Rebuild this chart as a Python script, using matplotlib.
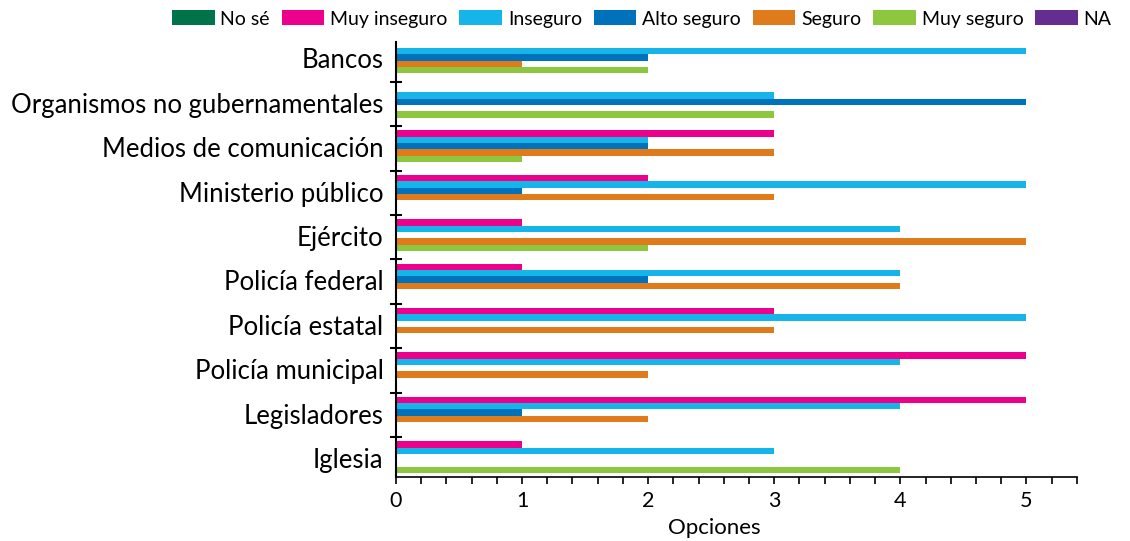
import numpy as np
import matplotlib
matplotlib.use("Agg")
import matplotlib.pyplot as plt

# Categories, top to bottom
categories = ["Bancos", "Organismos no gubernamentales", "Medios de comunicación",
              "Ministerio público", "Ejército", "Policía federal", "Policía estatal",
              "Policía municipal", "Legisladores", "Iglesia"]

series_names = ["No sé", "Muy inseguro", "Inseguro", "Alto seguro", "Seguro", "Muy seguro", "NA"]
series_colors = ["#00734a", "#ec008c", "#15b5e9", "#0072bc", "#e07b1c", "#8dc63f", "#662d91"]

no_se        = [0, 0, 0, 0, 0, 0, 0, 0, 0, 0]
muy_inseguro = [0, 0, 3, 2, 1, 1, 3, 5, 5, 1]
inseguro     = [5, 3, 2, 5, 4, 4, 5, 4, 4, 3]
alto_seguro  = [2, 5, 2, 1, 0, 2, 0, 0, 1, 0]
seguro       = [1, 0, 3, 3, 5, 4, 3, 2, 2, 0]
muy_seguro   = [2, 3, 1, 0, 2, 0, 0, 0, 0, 4]
na           = [0, 0, 0, 0, 0, 0, 0, 0, 0, 0]

series_values = [no_se, muy_inseguro, inseguro, alto_seguro, seguro, muy_seguro, na]

plt.rcParams['font.family'] = ['Lato', 'DejaVu Sans']

fig = plt.figure(figsize=(11.3, 5.41), dpi=100)
ax = fig.add_axes([0.3504, 0.1183, 0.6026, 0.8041])

y = np.arange(len(categories))
h = 1 / 7
for i, (name, vals, col) in enumerate(zip(series_names, series_values, series_colors)):
    ax.barh(y + (i - 3) * h - 0.05, vals, height=h, color=col, label=name, linewidth=0)

ax.set_ylim(9.4, -0.4)
ax.set_xlim(0, 5.4)

ax.set_yticks(y - 0.03)
ax.set_yticklabels(categories, fontsize=18.5)
ax.tick_params(axis='y', which='major', length=0, pad=9)
ax.set_yticks(np.arange(0.5, 9, 1), minor=True)
ax.tick_params(axis='y', which='minor', direction='inout', length=9, width=1.5)

ax.set_xticks(range(6))
ax.set_xticks(np.arange(0, 5.41, 0.2), minor=True)
ax.tick_params(axis='x', which='both', direction='out', length=5, width=1.2,
               labelsize=15.5, pad=5)
ax.set_xlabel("Opciones", fontsize=16)
ax.xaxis.set_label_coords(0.467, -0.095)

for s in ['top', 'right']:
    ax.spines[s].set_visible(False)
ax.spines['left'].set_linewidth(1.5)
ax.spines['bottom'].set_linewidth(1.2)

fig.legend(loc='center left', bbox_to_anchor=(0.152, 0.965), ncol=7, frameon=False,
           fontsize=14, handlelength=2.2, handleheight=0.8, handletextpad=0.3,
           columnspacing=0.6, borderaxespad=0, borderpad=0)

fig.savefig("out.png", dpi=100)
